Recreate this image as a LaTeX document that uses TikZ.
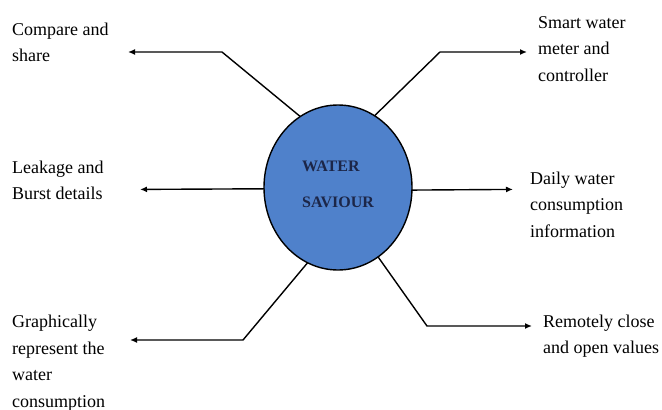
\documentclass[tikz,border=0pt]{standalone}
\usepackage{fontspec}
\setmainfont{Liberation Serif}
\usetikzlibrary{arrows.meta,shapes.geometric}
\definecolor{wsfill}{RGB}{79,129,203}
\definecolor{wstext}{RGB}{28,38,72}
\begin{document}
\begin{tikzpicture}[x=1pt,y=-1pt,
  lbl/.style={anchor=base west,inner sep=0pt,align=left,font=\fontsize{18}{26.5}\selectfont},
  conn/.style={line width=1.4pt,-{Latex[length=7pt,width=6pt]}}]
\useasboundingbox (0,0) rectangle (662,410);
\node[ellipse,draw=black,line width=1.4pt,fill=wsfill,minimum width=148pt,minimum height=165pt,
      inner sep=0pt,outer sep=0pt,align=left,text depth=6pt,
      font=\fontsize{16}{36}\selectfont\bfseries,text=wstext] (ws) at (338,187.5) {WATER\\SAVIOUR};
% base anchor of a multi-line node is the baseline of its last line
\node[lbl] (cs) at (12,61.5) {Compare and\\share};
\node[lbl] (sw) at (538,81) {Smart water\\meter and\\controller};
\node[lbl] (lb) at (12,199.5) {Leakage and\\Burst details};
\node[lbl] (dw) at (530,237) {Daily water\\consumption\\information};
\node[lbl] (gr) at (12,407) {Graphically\\represent the\\water\\consumption};
\node[lbl] (rc) at (543,353.5) {Remotely close\\and open values};
\coordinate (cs1) at (222,52); \coordinate (cs2) at (128,52);
\coordinate (sw1) at (440,52); \coordinate (sw2) at (527,52);
\coordinate (lb2) at (140,189.4);
\coordinate (dw2) at (513,189.4);
\coordinate (gr1) at (243,340); \coordinate (gr2) at (130,340);
\coordinate (rc1) at (427,326); \coordinate (rc2) at (532,326);
\draw[conn] (ws.118) -- (cs1) -- (cs2);
\draw[conn] (ws.63) -- (sw1) -- (sw2);
\draw[conn] (ws.181.5) -- (lb2);
\draw[conn] (ws.358.5) -- (dw2);
\draw[conn] (ws.248) -- (gr1) -- (gr2);
\draw[conn] (ws.300) -- (rc1) -- (rc2);
\end{tikzpicture}
\end{document}
